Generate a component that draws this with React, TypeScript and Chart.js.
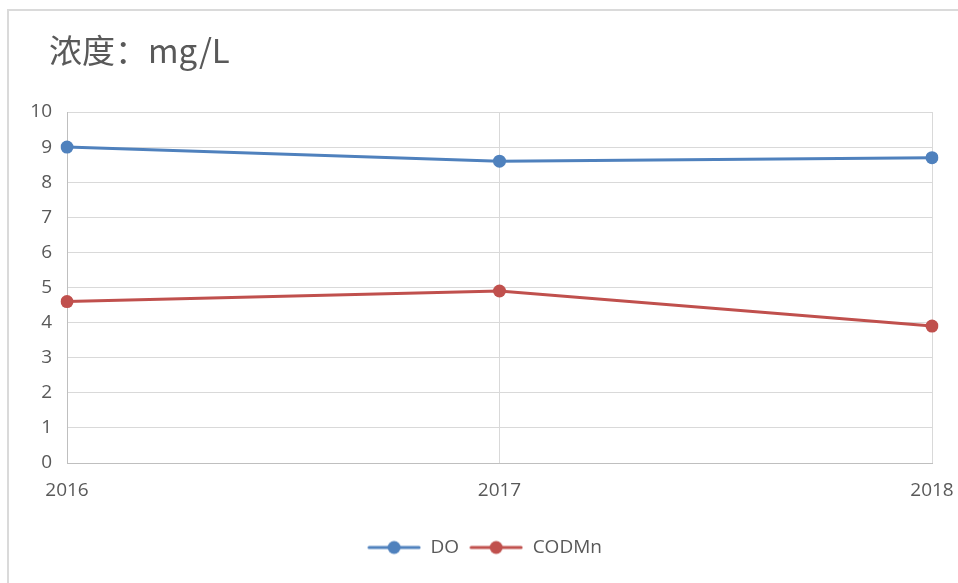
import React, { useEffect, useRef } from "react";
import { Chart, registerables } from "chart.js";

Chart.register(...registerables);

const categories: string[] = ["2016", "2017", "2018"];
const doValues: number[] = [9.0, 8.6, 8.7];
const codValues: number[] = [4.6, 4.9, 3.9];
const seriesNames: string[] = ["DO", "CODMn"];
const titleText = "浓度：mg/L";

const BLUE = "#4F81BD";
const RED = "#C0504D";
const TEXT = "#595959";
const FONT = "'Open Sans', 'Noto Sans', sans-serif";

function legendMarker(color: string): HTMLCanvasElement {
  const c = document.createElement("canvas");
  c.width = 54;
  c.height = 16;
  const ctx = c.getContext("2d")!;
  ctx.strokeStyle = color;
  ctx.lineWidth = 3;
  ctx.lineCap = "round";
  ctx.beginPath();
  ctx.moveTo(2, 8);
  ctx.lineTo(52, 8);
  ctx.stroke();
  ctx.fillStyle = color;
  ctx.beginPath();
  ctx.arc(27, 8, 6.5, 0, Math.PI * 2);
  ctx.fill();
  return c;
}

const titlePlugin = {
  id: "cornerTitle",
  afterLayout(chart: any) {
    if (chart.legend) {
      chart.legend.left += 6;
      chart.legend.right += 6;
    }
  },
  afterDraw(chart: any) {
    const ctx = chart.ctx;
    ctx.save();
    ctx.font = "33px 'Noto Sans CJK SC', sans-serif";
    ctx.fillStyle = TEXT;
    ctx.textBaseline = "middle";
    ctx.textAlign = "left";
    ctx.fillText(titleText, 49, 50);
    ctx.restore();
  },
};

export default function App() {
  const ref = useRef<HTMLCanvasElement>(null);
  useEffect(() => {
    if (!ref.current) return;
    const markers = [legendMarker(BLUE), legendMarker(RED)];
    const chart = new Chart(ref.current, {
      type: "line",
      data: {
        labels: categories,
        datasets: [
          {
            label: seriesNames[0],
            data: doValues,
            borderColor: BLUE,
            backgroundColor: BLUE,
            borderWidth: 3,
            pointRadius: 6.5,
            pointBorderWidth: 0,
            pointBackgroundColor: BLUE,
            tension: 0,
          },
          {
            label: seriesNames[1],
            data: codValues,
            borderColor: RED,
            backgroundColor: RED,
            borderWidth: 3,
            pointRadius: 6.5,
            pointBorderWidth: 0,
            pointBackgroundColor: RED,
            tension: 0,
          },
        ],
      },
      options: {
        animation: false,
        responsive: true,
        maintainAspectRatio: false,
        layout: { padding: { left: 25, top: 112, right: 26, bottom: 16 } },
        plugins: {
          title: { display: false },
          tooltip: { enabled: false },
          legend: {
            position: "bottom",
            labels: {
              usePointStyle: true,
              pointStyleWidth: 54,
              boxHeight: 16,
              padding: 10,
              color: TEXT,
              font: { family: FONT, size: 19 },
              generateLabels: (ch: any) => {
                const base = (Chart.defaults.plugins.legend.labels as any).generateLabels(ch);
                return base.map((l: any, i: number) => ({ ...l, pointStyle: markers[i], lineWidth: 0 }));
              },
            },
          },
        },
        scales: {
          x: {
            offset: false,
            grid: { color: "#d9d9d9", drawTicks: false },
            border: { color: "#bfbfbf" },
            ticks: {
              color: TEXT,
              font: { family: FONT, size: 19 },
              padding: 16,
              maxRotation: 0,
            },
            afterFit: (s: any) => {
              s.height = 65;
              s.paddingLeft = 0;
              s.paddingRight = 0;
            },
          },
          y: {
            min: 0,
            max: 10,
            grid: { color: "#d9d9d9", drawTicks: false },
            border: { color: "#bfbfbf" },
            ticks: {
              stepSize: 1,
              color: TEXT,
              font: { family: FONT, size: 19 },
              padding: 15,
            },
            afterFit: (s: any) => {
              s.width = 42;
            },
          },
        },
      },
      plugins: [titlePlugin],
    });
    return () => chart.destroy();
  }, []);

  return (
    <div style={{ position: "absolute", left: 0, top: 0, width: 958, height: 583, background: "#fff" }}>
      <div
        style={{
          position: "absolute",
          left: 7,
          top: 9,
          right: 0,
          bottom: 0,
          borderTop: "2px solid #dadada",
          borderLeft: "2px solid #dadada",
        }}
      />
      <div style={{ position: "absolute", left: 0, top: 0, width: 958, height: 583 }}>
        <canvas ref={ref} />
      </div>
    </div>
  );
}
